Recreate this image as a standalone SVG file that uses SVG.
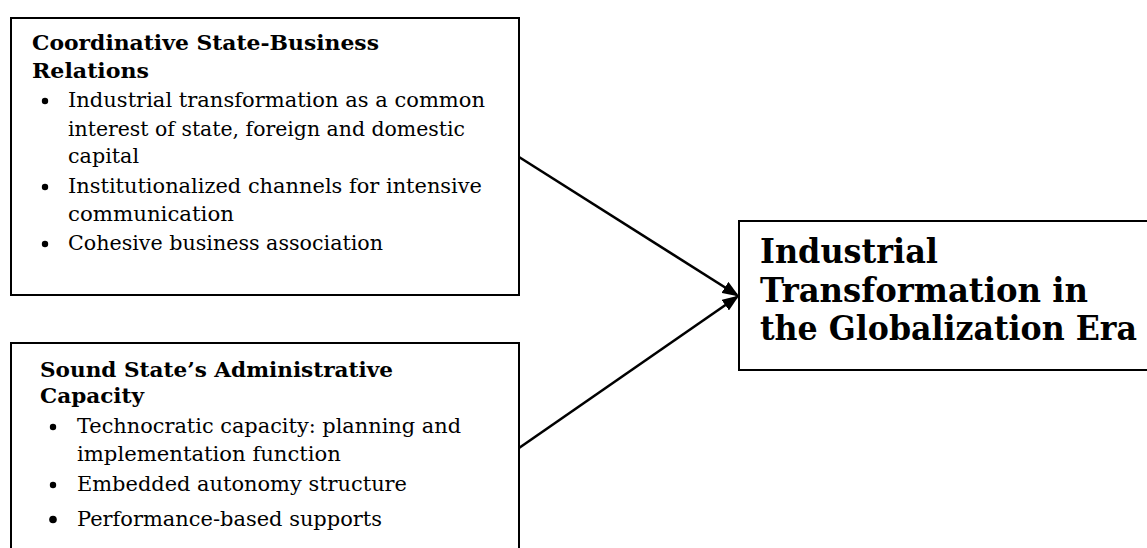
<svg xmlns="http://www.w3.org/2000/svg" width="1147" height="548" viewBox="0 0 1147 548">
  <style>
    .box { fill: #ffffff; stroke: #000000; stroke-width: 2; }
    .head { font-family: "DejaVu Serif", "Liberation Serif", serif; font-weight: bold; font-size: 21px; fill: #000000; }
    .item { font-family: "DejaVu Serif", "Liberation Serif", serif; font-size: 20.5px; fill: #000000; }
    .big { font-family: "DejaVu Serif", "Liberation Serif", serif; font-weight: bold; font-size: 34px; fill: #000000; }
    .dot { fill: #000000; }
    .link { fill: none; stroke: #000000; stroke-width: 2.6; marker-end: url(#arrow); }
  </style>
  <defs>
    <marker id="arrow" markerWidth="6.5" markerHeight="5" refX="5.5" refY="2.5" orient="auto" markerUnits="strokeWidth">
      <path d="M0,0 L6.5,2.5 L0,5 Z" fill="#000000"/>
    </marker>
  </defs>

  <rect width="1147" height="548" fill="#ffffff"/>

  <!-- Coordinative state-business relations -->
  <g id="node-coordinative">
    <rect class="box" x="11" y="18" width="508" height="277"/>
    <text class="head" x="32" y="50" textLength="347" lengthAdjust="spacingAndGlyphs">Coordinative State-Business</text>
    <text class="head" x="32" y="78" textLength="117" lengthAdjust="spacingAndGlyphs">Relations</text>
    <circle class="dot" cx="45" cy="101" r="3.2"/>
    <text class="item" x="68" y="107" textLength="417" lengthAdjust="spacingAndGlyphs">Industrial transformation as a common</text>
    <text class="item" x="68" y="135.5" textLength="397" lengthAdjust="spacingAndGlyphs">interest of state, foreign and domestic</text>
    <text class="item" x="68" y="163" textLength="71" lengthAdjust="spacingAndGlyphs">capital</text>
    <circle class="dot" cx="45" cy="187" r="3.2"/>
    <text class="item" x="68" y="193" textLength="414" lengthAdjust="spacingAndGlyphs">Institutionalized channels for intensive</text>
    <text class="item" x="68" y="221" textLength="166" lengthAdjust="spacingAndGlyphs">communication</text>
    <circle class="dot" cx="45" cy="244" r="3.2"/>
    <text class="item" x="68" y="250" textLength="315" lengthAdjust="spacingAndGlyphs">Cohesive business association</text>
  </g>

  <!-- Sound state's administrative capacity -->
  <g id="node-administrative">
    <rect class="box" x="11" y="343" width="508" height="215"/>
    <text class="head" x="40" y="377" textLength="353" lengthAdjust="spacingAndGlyphs">Sound State’s Administrative</text>
    <text class="head" x="40" y="403" textLength="104" lengthAdjust="spacingAndGlyphs">Capacity</text>
    <circle class="dot" cx="53" cy="427" r="3.2"/>
    <text class="item" x="77" y="432.5" textLength="384" lengthAdjust="spacingAndGlyphs">Technocratic capacity: planning and</text>
    <text class="item" x="77" y="460.5" textLength="264" lengthAdjust="spacingAndGlyphs">implementation function</text>
    <circle class="dot" cx="53" cy="485" r="3.2"/>
    <text class="item" x="77" y="491" textLength="330" lengthAdjust="spacingAndGlyphs">Embedded autonomy structure</text>
    <circle class="dot" cx="53" cy="519.5" r="3.8"/>
    <text class="item" x="77" y="525.5" textLength="305" lengthAdjust="spacingAndGlyphs">Performance-based supports</text>
  </g>

  <!-- Outcome -->
  <g id="node-outcome">
    <rect class="box" x="739" y="221" width="420" height="149"/>
    <text class="big" x="760" y="263" textLength="178" lengthAdjust="spacingAndGlyphs">Industrial</text>
    <text class="big" x="760" y="301.5" textLength="328" lengthAdjust="spacingAndGlyphs">Transformation in</text>
    <text class="big" x="760" y="340" textLength="377" lengthAdjust="spacingAndGlyphs">the Globalization Era</text>
  </g>

  <!-- Connectors -->
  <g id="connectors">
    <path class="link" d="M519,157 L737,295"/>
    <path class="link" d="M519,448 L737,297"/>
  </g>
</svg>
